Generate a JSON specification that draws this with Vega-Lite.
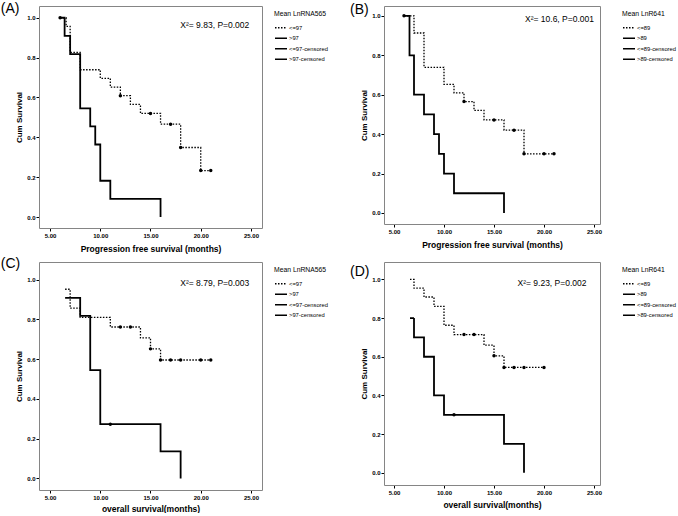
{
  "$schema": "https://vega.github.io/schema/vega-lite/v6.json",
  "padding": {"left": 0, "top": 1, "right": 0, "bottom": 0},
  "background": "white",
  "columns": 2,
  "spacing": {"column": 17, "row": 3},
  "resolve": {
    "scale": {"x": "independent", "y": "independent", "strokeDash": "independent", "strokeWidth": "independent"},
    "legend": {"strokeDash": "independent"}
  },
  "config": {
    "font": "Liberation Sans",
    "view": {"stroke": null},
    "axis": {
      "labelFont": "Liberation Sans", "labelFontSize": 6, "labelFontWeight": "bold", "labelColor": "black",
      "titleFont": "Liberation Sans", "titleFontWeight": "bold", "titleColor": "black",
      "tickColor": "black", "tickSize": 3, "labelPadding": 1, "domain": true, "domainColor": "#858585", "domainWidth": 1, "grid": false
    },
    "axisX": {"titleFontSize": 8.5, "titlePadding": 6},
    "axisY": {"titleFontSize": 8, "titlePadding": 3},
    "legend": {
      "orient": "right", "offset": 7, "padding": 5,
      "titleFont": "Liberation Sans", "titleFontSize": 6.8, "titleFontWeight": "normal", "titleColor": "black",
      "labelFont": "Liberation Sans", "labelFontSize": 5.8, "labelColor": "black",
      "symbolType": "stroke", "symbolSize": 144, "symbolStrokeWidth": 1.5, "symbolStrokeColor": "black",
      "rowPadding": 0.5, "titlePadding": 3, "labelOffset": 1
    }
  },
  "concat": [
    {
      "width": 223, "height": 222,
      "resolve": {"axis": {"x": "independent", "y": "independent"}},
      "data": {"values": [
        {"group": "<=97", "kind": "line", "time": 6, "survival": 1.0},
        {"group": "<=97", "kind": "line", "time": 6.6, "survival": 0.957},
        {"group": "<=97", "kind": "line", "time": 7, "survival": 0.826},
        {"group": "<=97", "kind": "line", "time": 8, "survival": 0.739},
        {"group": "<=97", "kind": "line", "time": 10, "survival": 0.696},
        {"group": "<=97", "kind": "line", "time": 11, "survival": 0.652},
        {"group": "<=97", "kind": "line", "time": 12, "survival": 0.609},
        {"group": "<=97", "kind": "line", "time": 13, "survival": 0.565},
        {"group": "<=97", "kind": "line", "time": 14, "survival": 0.52},
        {"group": "<=97", "kind": "line", "time": 16, "survival": 0.466},
        {"group": "<=97", "kind": "line", "time": 18, "survival": 0.349},
        {"group": "<=97", "kind": "line", "time": 20, "survival": 0.233},
        {"group": "<=97", "kind": "line", "time": 21, "survival": 0.233},
        {"group": ">97", "kind": "line", "time": 6, "survival": 1.0},
        {"group": ">97", "kind": "line", "time": 6.45, "survival": 0.909},
        {"group": ">97", "kind": "line", "time": 7, "survival": 0.818},
        {"group": ">97", "kind": "line", "time": 8, "survival": 0.545},
        {"group": ">97", "kind": "line", "time": 9, "survival": 0.455},
        {"group": ">97", "kind": "line", "time": 9.5, "survival": 0.364},
        {"group": ">97", "kind": "line", "time": 10, "survival": 0.182},
        {"group": ">97", "kind": "line", "time": 11, "survival": 0.091},
        {"group": ">97", "kind": "line", "time": 16, "survival": 0.0},
        {"group": ">97", "kind": "censor", "time": 6, "survival": 1.0},
        {"group": "<=97", "kind": "censor", "time": 12, "survival": 0.609},
        {"group": "<=97", "kind": "censor", "time": 15, "survival": 0.52},
        {"group": "<=97", "kind": "censor", "time": 17, "survival": 0.466},
        {"group": "<=97", "kind": "censor", "time": 18, "survival": 0.349},
        {"group": "<=97", "kind": "censor", "time": 20, "survival": 0.233},
        {"group": "<=97", "kind": "censor", "time": 21, "survival": 0.233}
      ]},
      "layer": [
        {
          "transform": [{"filter": "datum.kind === 'line'"}],
          "mark": {"type": "line", "interpolate": "step-after", "color": "black"},
          "encoding": {
            "x": {"field": "time", "type": "quantitative", "scale": {"domain": [3.9, 26.1], "nice": false, "zero": false},
                  "axis": {"values": [5, 10, 15, 20, 25], "format": ".2f", "title": "Progression free survival (months)"}},
            "y": {"field": "survival", "type": "quantitative", "scale": {"domain": [-0.055, 1.059], "nice": false, "zero": false},
                  "axis": {"values": [0, 0.2, 0.4, 0.6, 0.8, 1.0], "format": ".1f", "title": "Cum Survival"}},
            "strokeDash": {"field": "group", "type": "nominal",
                  "scale": {"domain": ["<=97", ">97", "<=97-censored", ">97-censored"], "range": [[1.5, 1.5], [1, 0], [1, 0], [1, 0]]},
                  "legend": {"title": "Mean LnRNA565"}},
            "strokeWidth": {"field": "group", "type": "nominal",
                  "scale": {"domain": ["<=97", ">97"], "range": [1.3, 1.8]}, "legend": null}
          }
        },
        {
          "transform": [{"filter": "datum.kind === 'censor'"}],
          "mark": {"type": "point", "shape": "circle", "filled": true, "color": "black", "size": 12, "opacity": 1},
          "encoding": {
            "x": {"field": "time", "type": "quantitative", "axis": {"orient": "top", "labels": false, "ticks": false, "title": null}},
            "y": {"field": "survival", "type": "quantitative", "axis": {"orient": "right", "labels": false, "ticks": false, "title": null}}
          }
        },
        {
          "data": {"values": [{"label": "X²= 9.83, P=0.002", "tx": 21.4, "ty": 0.966}]},
          "mark": {"type": "text", "fontSize": 8.5, "font": "Liberation Sans", "color": "black"},
          "encoding": {"x": {"field": "tx", "type": "quantitative", "axis": null}, "y": {"field": "ty", "type": "quantitative", "axis": null}, "text": {"field": "label"}}
        },
        {
          "data": {"values": [{"label": "(A)", "tx": 0.1, "ty": 1.045}]},
          "mark": {"type": "text", "fontSize": 14, "font": "Liberation Sans", "align": "left", "baseline": "middle", "color": "black"},
          "encoding": {"x": {"field": "tx", "type": "quantitative", "axis": null}, "y": {"field": "ty", "type": "quantitative", "axis": null}, "text": {"field": "label"}}
        }
      ]
    },
    {
      "width": 216, "height": 218,
      "resolve": {"axis": {"x": "independent", "y": "independent"}},
      "data": {"values": [
        {"group": "<=89", "kind": "line", "time": 6, "survival": 1.0},
        {"group": "<=89", "kind": "line", "time": 7, "survival": 0.913},
        {"group": "<=89", "kind": "line", "time": 8, "survival": 0.739},
        {"group": "<=89", "kind": "line", "time": 10, "survival": 0.652},
        {"group": "<=89", "kind": "line", "time": 11, "survival": 0.609},
        {"group": "<=89", "kind": "line", "time": 12, "survival": 0.565},
        {"group": "<=89", "kind": "line", "time": 13, "survival": 0.52},
        {"group": "<=89", "kind": "line", "time": 14, "survival": 0.472},
        {"group": "<=89", "kind": "line", "time": 16, "survival": 0.42},
        {"group": "<=89", "kind": "line", "time": 18, "survival": 0.3},
        {"group": "<=89", "kind": "line", "time": 21, "survival": 0.3},
        {"group": ">89", "kind": "line", "time": 6, "survival": 1.0},
        {"group": ">89", "kind": "line", "time": 6.55, "survival": 0.8},
        {"group": ">89", "kind": "line", "time": 7, "survival": 0.6},
        {"group": ">89", "kind": "line", "time": 8, "survival": 0.5},
        {"group": ">89", "kind": "line", "time": 9, "survival": 0.4},
        {"group": ">89", "kind": "line", "time": 9.5, "survival": 0.3},
        {"group": ">89", "kind": "line", "time": 10, "survival": 0.2},
        {"group": ">89", "kind": "line", "time": 11, "survival": 0.1},
        {"group": ">89", "kind": "line", "time": 16, "survival": 0.0},
        {"group": ">89", "kind": "censor", "time": 6, "survival": 1.0},
        {"group": "<=89", "kind": "censor", "time": 12, "survival": 0.565},
        {"group": "<=89", "kind": "censor", "time": 15, "survival": 0.472},
        {"group": "<=89", "kind": "censor", "time": 17, "survival": 0.42},
        {"group": "<=89", "kind": "censor", "time": 18, "survival": 0.3},
        {"group": "<=89", "kind": "censor", "time": 20, "survival": 0.3},
        {"group": "<=89", "kind": "censor", "time": 21, "survival": 0.3}
      ]},
      "layer": [
        {
          "transform": [{"filter": "datum.kind === 'line'"}],
          "mark": {"type": "line", "interpolate": "step-after", "color": "black"},
          "encoding": {
            "x": {"field": "time", "type": "quantitative", "scale": {"domain": [4.0, 25.6], "nice": false, "zero": false},
                  "axis": {"values": [5, 10, 15, 20, 25], "format": ".2f", "title": "Progression free survival (months)"}},
            "y": {"field": "survival", "type": "quantitative", "scale": {"domain": [-0.056, 1.05], "nice": false, "zero": false},
                  "axis": {"values": [0, 0.2, 0.4, 0.6, 0.8, 1.0], "format": ".1f", "title": "Cum Survival"}},
            "strokeDash": {"field": "group", "type": "nominal",
                  "scale": {"domain": ["<=89", ">89", "<=89-censored", ">89-censored"], "range": [[1.5, 1.5], [1, 0], [1, 0], [1, 0]]},
                  "legend": {"title": "Mean LnR641", "offset": 17}},
            "strokeWidth": {"field": "group", "type": "nominal",
                  "scale": {"domain": ["<=89", ">89"], "range": [1.3, 1.8]}, "legend": null}
          }
        },
        {
          "transform": [{"filter": "datum.kind === 'censor'"}],
          "mark": {"type": "point", "shape": "circle", "filled": true, "color": "black", "size": 12, "opacity": 1},
          "encoding": {
            "x": {"field": "time", "type": "quantitative", "axis": {"orient": "top", "labels": false, "ticks": false, "title": null}},
            "y": {"field": "survival", "type": "quantitative", "axis": {"orient": "right", "labels": false, "ticks": false, "title": null}}
          }
        },
        {
          "data": {"values": [{"label": "X²= 10.6, P=0.001", "tx": 21.55, "ty": 0.982}]},
          "mark": {"type": "text", "fontSize": 8.5, "font": "Liberation Sans", "color": "black"},
          "encoding": {"x": {"field": "tx", "type": "quantitative", "axis": null}, "y": {"field": "ty", "type": "quantitative", "axis": null}, "text": {"field": "label"}}
        },
        {
          "data": {"values": [{"label": "(B)", "tx": 0.6, "ty": 1.03}]},
          "mark": {"type": "text", "fontSize": 14, "font": "Liberation Sans", "align": "left", "baseline": "middle", "color": "black"},
          "encoding": {"x": {"field": "tx", "type": "quantitative", "axis": null}, "y": {"field": "ty", "type": "quantitative", "axis": null}, "text": {"field": "label"}}
        }
      ]
    },
    {
      "width": 223, "height": 228,
      "resolve": {"axis": {"x": "independent", "y": "independent"}},
      "data": {"values": [
        {"group": "<=97", "kind": "line", "time": 6.5, "survival": 0.952},
        {"group": "<=97", "kind": "line", "time": 7, "survival": 0.857},
        {"group": "<=97", "kind": "line", "time": 8, "survival": 0.81},
        {"group": "<=97", "kind": "line", "time": 11, "survival": 0.762},
        {"group": "<=97", "kind": "line", "time": 14, "survival": 0.707},
        {"group": "<=97", "kind": "line", "time": 15, "survival": 0.652},
        {"group": "<=97", "kind": "line", "time": 16, "survival": 0.596},
        {"group": "<=97", "kind": "line", "time": 21, "survival": 0.596},
        {"group": ">97", "kind": "line", "time": 6.5, "survival": 0.909},
        {"group": ">97", "kind": "line", "time": 8, "survival": 0.818},
        {"group": ">97", "kind": "line", "time": 9, "survival": 0.545},
        {"group": ">97", "kind": "line", "time": 10, "survival": 0.273},
        {"group": ">97", "kind": "line", "time": 16, "survival": 0.136},
        {"group": ">97", "kind": "line", "time": 18, "survival": 0.0},
        {"group": ">97", "kind": "censor", "time": 11, "survival": 0.273},
        {"group": "<=97", "kind": "censor", "time": 12, "survival": 0.762},
        {"group": "<=97", "kind": "censor", "time": 13, "survival": 0.762},
        {"group": "<=97", "kind": "censor", "time": 15, "survival": 0.652},
        {"group": "<=97", "kind": "censor", "time": 16, "survival": 0.596},
        {"group": "<=97", "kind": "censor", "time": 17, "survival": 0.596},
        {"group": "<=97", "kind": "censor", "time": 18, "survival": 0.596},
        {"group": "<=97", "kind": "censor", "time": 20, "survival": 0.596},
        {"group": "<=97", "kind": "censor", "time": 21, "survival": 0.596}
      ]},
      "layer": [
        {
          "transform": [{"filter": "datum.kind === 'line'"}],
          "mark": {"type": "line", "interpolate": "step-after", "color": "black"},
          "encoding": {
            "x": {"field": "time", "type": "quantitative", "scale": {"domain": [3.9, 26.1], "nice": false, "zero": false},
                  "axis": {"values": [5, 10, 15, 20, 25], "format": ".2f", "title": "overall survival(months)", "titlePadding": 4}},
            "y": {"field": "survival", "type": "quantitative", "scale": {"domain": [-0.058, 1.089], "nice": false, "zero": false},
                  "axis": {"values": [0, 0.2, 0.4, 0.6, 0.8, 1.0], "format": ".1f", "title": "Cum Survival"}},
            "strokeDash": {"field": "group", "type": "nominal",
                  "scale": {"domain": ["<=97", ">97", "<=97-censored", ">97-censored"], "range": [[1.5, 1.5], [1, 0], [1, 0], [1, 0]]},
                  "legend": {"title": "Mean LnRNA565"}},
            "strokeWidth": {"field": "group", "type": "nominal",
                  "scale": {"domain": ["<=97", ">97"], "range": [1.3, 1.8]}, "legend": null}
          }
        },
        {
          "transform": [{"filter": "datum.kind === 'censor'"}],
          "mark": {"type": "point", "shape": "circle", "filled": true, "color": "black", "size": 12, "opacity": 1},
          "encoding": {
            "x": {"field": "time", "type": "quantitative", "axis": {"orient": "top", "labels": false, "ticks": false, "title": null}},
            "y": {"field": "survival", "type": "quantitative", "axis": {"orient": "right", "labels": false, "ticks": false, "title": null}}
          }
        },
        {
          "data": {"values": [{"label": "X²= 8.79, P=0.003", "tx": 21.4, "ty": 0.983}]},
          "mark": {"type": "text", "fontSize": 8.5, "font": "Liberation Sans", "color": "black"},
          "encoding": {"x": {"field": "tx", "type": "quantitative", "axis": null}, "y": {"field": "ty", "type": "quantitative", "axis": null}, "text": {"field": "label"}}
        },
        {
          "data": {"values": [{"label": "(C)", "tx": 0.1, "ty": 1.079}]},
          "mark": {"type": "text", "fontSize": 14, "font": "Liberation Sans", "align": "left", "baseline": "middle", "color": "black"},
          "encoding": {"x": {"field": "tx", "type": "quantitative", "axis": null}, "y": {"field": "ty", "type": "quantitative", "axis": null}, "text": {"field": "label"}}
        }
      ]
    },
    {
      "width": 216, "height": 223,
      "resolve": {"axis": {"x": "independent", "y": "independent"}},
      "data": {"values": [
        {"group": "<=89", "kind": "line", "time": 6.6, "survival": 1.0},
        {"group": "<=89", "kind": "line", "time": 7, "survival": 0.955},
        {"group": "<=89", "kind": "line", "time": 8, "survival": 0.909},
        {"group": "<=89", "kind": "line", "time": 9, "survival": 0.861},
        {"group": "<=89", "kind": "line", "time": 10, "survival": 0.763},
        {"group": "<=89", "kind": "line", "time": 11, "survival": 0.715},
        {"group": "<=89", "kind": "line", "time": 14, "survival": 0.66},
        {"group": "<=89", "kind": "line", "time": 15, "survival": 0.605},
        {"group": "<=89", "kind": "line", "time": 16, "survival": 0.545},
        {"group": "<=89", "kind": "line", "time": 20, "survival": 0.545},
        {"group": ">89", "kind": "line", "time": 6.6, "survival": 0.8},
        {"group": ">89", "kind": "line", "time": 7, "survival": 0.7},
        {"group": ">89", "kind": "line", "time": 8, "survival": 0.6},
        {"group": ">89", "kind": "line", "time": 9, "survival": 0.4},
        {"group": ">89", "kind": "line", "time": 10, "survival": 0.3},
        {"group": ">89", "kind": "line", "time": 16, "survival": 0.15},
        {"group": ">89", "kind": "line", "time": 18, "survival": 0.0},
        {"group": ">89", "kind": "censor", "time": 11, "survival": 0.3},
        {"group": "<=89", "kind": "censor", "time": 12, "survival": 0.715},
        {"group": "<=89", "kind": "censor", "time": 13, "survival": 0.715},
        {"group": "<=89", "kind": "censor", "time": 15, "survival": 0.605},
        {"group": "<=89", "kind": "censor", "time": 16, "survival": 0.545},
        {"group": "<=89", "kind": "censor", "time": 17, "survival": 0.545},
        {"group": "<=89", "kind": "censor", "time": 18, "survival": 0.545},
        {"group": "<=89", "kind": "censor", "time": 20, "survival": 0.545}
      ]},
      "layer": [
        {
          "transform": [{"filter": "datum.kind === 'line'"}],
          "mark": {"type": "line", "interpolate": "step-after", "color": "black"},
          "encoding": {
            "x": {"field": "time", "type": "quantitative", "scale": {"domain": [4.0, 25.6], "nice": false, "zero": false},
                  "axis": {"values": [5, 10, 15, 20, 25], "format": ".2f", "title": "overall survival(months)", "titlePadding": 5}},
            "y": {"field": "survival", "type": "quantitative", "scale": {"domain": [-0.063, 1.09], "nice": false, "zero": false},
                  "axis": {"values": [0, 0.2, 0.4, 0.6, 0.8, 1.0], "format": ".1f", "title": "Cum Survival"}},
            "strokeDash": {"field": "group", "type": "nominal",
                  "scale": {"domain": ["<=89", ">89", "<=89-censored", ">89-censored"], "range": [[1.5, 1.5], [1, 0], [1, 0], [1, 0]]},
                  "legend": {"title": "Mean LnR641", "offset": 17}},
            "strokeWidth": {"field": "group", "type": "nominal",
                  "scale": {"domain": ["<=89", ">89"], "range": [1.3, 1.8]}, "legend": null}
          }
        },
        {
          "transform": [{"filter": "datum.kind === 'censor'"}],
          "mark": {"type": "point", "shape": "circle", "filled": true, "color": "black", "size": 12, "opacity": 1},
          "encoding": {
            "x": {"field": "time", "type": "quantitative", "axis": {"orient": "top", "labels": false, "ticks": false, "title": null}},
            "y": {"field": "survival", "type": "quantitative", "axis": {"orient": "right", "labels": false, "ticks": false, "title": null}}
          }
        },
        {
          "data": {"values": [{"label": "X²= 9.23, P=0.002", "tx": 20.8, "ty": 0.98}]},
          "mark": {"type": "text", "fontSize": 8.5, "font": "Liberation Sans", "color": "black"},
          "encoding": {"x": {"field": "tx", "type": "quantitative", "axis": null}, "y": {"field": "ty", "type": "quantitative", "axis": null}, "text": {"field": "label"}}
        },
        {
          "data": {"values": [{"label": "(D)", "tx": 0.6, "ty": 1.037}]},
          "mark": {"type": "text", "fontSize": 14, "font": "Liberation Sans", "align": "left", "baseline": "middle", "color": "black"},
          "encoding": {"x": {"field": "tx", "type": "quantitative", "axis": null}, "y": {"field": "ty", "type": "quantitative", "axis": null}, "text": {"field": "label"}}
        }
      ]
    }
  ]
}
